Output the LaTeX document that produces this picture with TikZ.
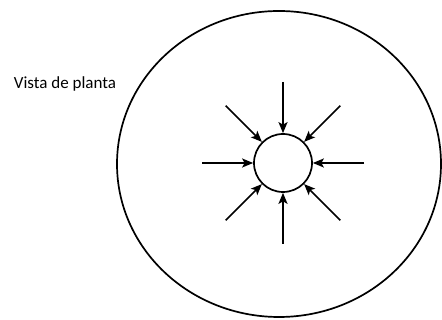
\documentclass[tikz,border=0pt]{standalone}
\usepackage{fontspec}
\setmainfont{Carlito}
\usetikzlibrary{arrows.meta}

\begin{document}
\begin{tikzpicture}[x=1pt, y=1pt, line width=1.7pt,
    flecha/.style={-{Stealth[length=11pt, width=9pt, inset=2.5pt]}}]
                \useasboundingbox (0,0) rectangle (442,320);

                % texto
                \node (vista) at (65,236) {\fontsize{17pt}{20pt}\selectfont Vista de planta};

                % elipse exterior
                \draw (279,156) ellipse [x radius=162, y radius=153];

                % pozo central
                \node[draw, circle, minimum size=58pt, inner sep=0pt] (pozo) at (283,157) {};

                % flechas hacia el pozo
                \foreach \a in {0,45,...,315} {
                    \path (pozo.center) ++(\a:81) coordinate (s\a);
                    \draw[flecha] (s\a) -- (pozo.\a);
                }

            \end{tikzpicture}
\end{document}
